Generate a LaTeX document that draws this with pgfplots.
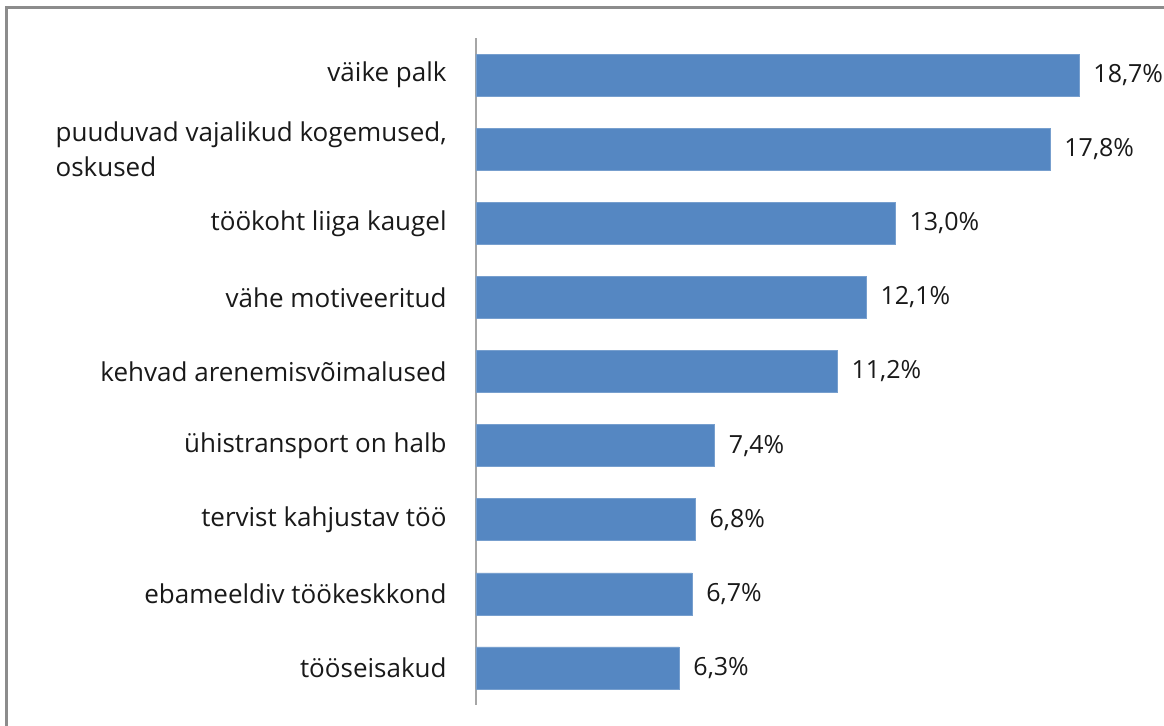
\documentclass[border=0pt]{standalone}
\usepackage{pgfplots}
\pgfplotsset{compat=1.18}
\usepackage{fontspec}
\setmainfont{Open Sans}
\definecolor{barblue}{HTML}{5587C2}
\definecolor{framegray}{HTML}{8C8C8C}
\definecolor{axisgray}{HTML}{A6A6A6}
\begin{document}
\begin{tikzpicture}
\fontsize{13pt}{15pt}\selectfont
\begin{axis}[
  at={(0,0)}, anchor=south west,
  scale only axis,
  width=344pt, height=333.5pt,
  xmin=0, xmax=21.33,
  ymin=-0.5, ymax=8.5,
  y dir=reverse,
  xbar, bar width=21pt,
  axis x line=none,
  axis y line*=left,
  y axis line style={draw=axisgray, line width=0.6pt},
  ytick={0,...,8},
  major tick length=0pt,
  yticklabels={{väike palk},{puuduvad vajalikud kogemused,\\[2.5pt]oskused},{töökoht liiga kaugel},{vähe motiveeritud},{kehvad arenemisvõimalused},{ühistransport on halb},{tervist kahjustav töö},{ebameeldiv töökeskkond},{tööseisakud}},
  yticklabel style={align=left, inner sep=0pt, xshift=-14.5pt, font=\fontsize{13pt}{15pt}\selectfont, text=black!90},
  /pgf/number format/assume math mode=true,
  nodes near coords={\pgfmathprintnumber[fixed,fixed zerofill,precision=1,use comma]{\pgfplotspointmeta}\%},
  nodes near coords style={font=\fontsize{12.5pt}{15pt}\selectfont, anchor=west, inner sep=0pt, xshift=7pt, text=black!90},
  clip=false,
]
\addplot[fill=barblue, draw=barblue!80!white, line width=0.3pt] coordinates {
(18.7,0) (17.8,1) (13.0,2) (12.1,3) (11.2,4) (7.4,5) (6.8,6) (6.7,7) (6.3,8)};
\end{axis}
\useasboundingbox (-238pt,-10pt) rectangle (344pt,352.5pt);
\draw[framegray, line width=1.5pt] (-234.5pt,-20pt) -- (-234.5pt,348.5pt) -- (360pt,348.5pt);
\end{tikzpicture}
\end{document}
